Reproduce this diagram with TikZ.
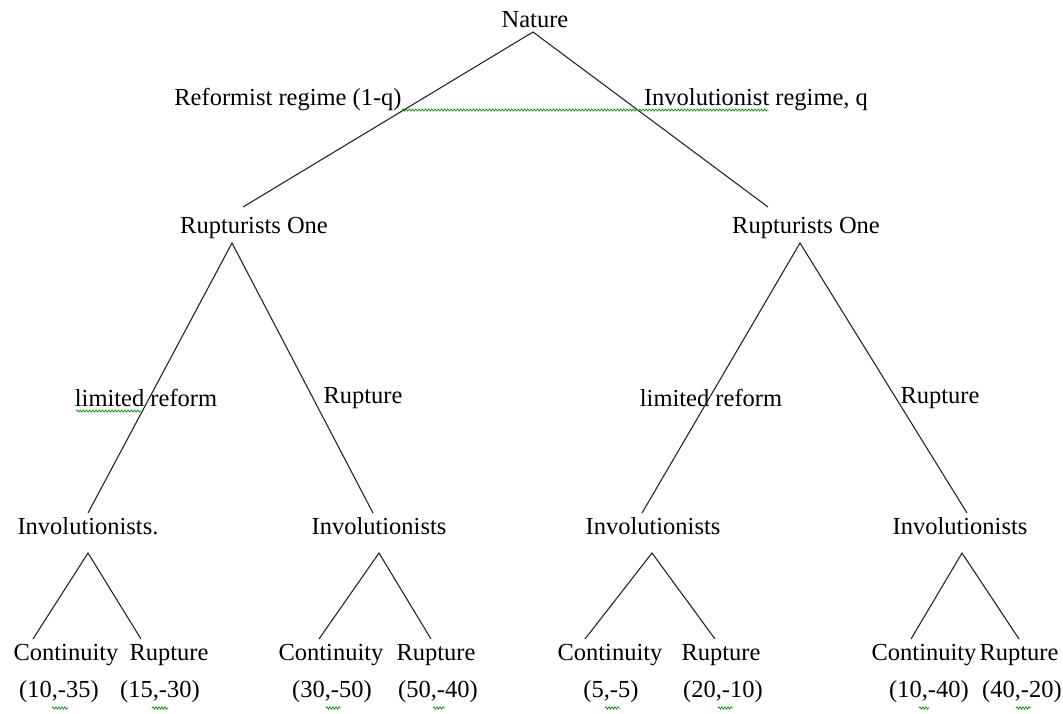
\documentclass[tikz,border=0pt]{standalone}
\usepackage{fontspec}
\setmainfont{Liberation Serif}
\usetikzlibrary{decorations.pathmorphing}
\begin{document}
\begin{tikzpicture}[x=1pt,y=-1pt,
  lbl/.style={inner sep=0pt,font=\fontsize{24.5}{28}\selectfont},
  branch/.style={draw=black!85,line width=1.1pt},
  squiggle/.style={draw=green!60!black,line width=0.7pt,
    decorate,decoration={snake,segment length=3.2pt,amplitude=1.1pt}}]
\useasboundingbox (0,0) rectangle (1063,713);

% players and moves
\node[lbl] (nat) at (535,20) {Nature};
\node[lbl] (reg1) at (288,100) {Reformist regime (1-q)};
\node[lbl] (reg2) at (756,100) {Involutionist regime, q};
\node[lbl] (rupL) at (254,228) {Rupturists One};
\node[lbl] (rupR) at (806,228) {Rupturists One};
\node[lbl] (limL) at (146,398) {limited reform};
\node[lbl] (rptL) at (363,398) {Rupture};
\node[lbl] (limR) at (711,398) {limited reform};
\node[lbl] (rptR) at (940,398) {Rupture};
\node[lbl] (inv1) at (88,526) {Involutionists.};
\node[lbl] (inv2) at (379,526) {Involutionists};
\node[lbl] (inv3) at (653,526) {Involutionists};
\node[lbl] (inv4) at (960,526) {Involutionists};

% terminal actions
\node[lbl] (c1) at (66,655) {Continuity};
\node[lbl] (r1) at (169,655) {Rupture};
\node[lbl] (c2) at (331,655) {Continuity};
\node[lbl] (r2) at (436,655) {Rupture};
\node[lbl] (c3) at (610,655) {Continuity};
\node[lbl] (r3) at (721,655) {Rupture};
\node[lbl] (c4) at (924,655) {Continuity};
\node[lbl] (r4) at (1019,655) {Rupture};

% payoffs
\node[lbl] (p1) at (59,692) {(10,-35)};
\node[lbl] (p2) at (160,692) {(15,-30)};
\node[lbl] (p3) at (332,692) {(30,-50)};
\node[lbl] (p4) at (438,692) {(50,-40)};
\node[lbl] (p5) at (611,692) {(5,-5)};
\node[lbl] (p6) at (723,692) {(20,-10)};
\node[lbl] (p7) at (929,692) {(10,-40)};
\node[lbl] (p8) at (1022,692) {(40,-20)};

% branch end points
\coordinate (a0) at (533,32);
\coordinate (a0l) at (243,207);
\coordinate (a0r) at (768,207);
\coordinate (aL) at (232,243);
\coordinate (aLl) at (88,513);
\coordinate (aLr) at (373,513);
\coordinate (aR) at (800,243);
\coordinate (aRl) at (642,513);
\coordinate (aRr) at (967,513);
\coordinate (b1) at (88,553);
\coordinate (b1l) at (33,639);
\coordinate (b1r) at (141,639);
\coordinate (b2) at (379,553);
\coordinate (b2l) at (319,639);
\coordinate (b2r) at (431,639);
\coordinate (b3) at (652,553);
\coordinate (b3l) at (585,639);
\coordinate (b3r) at (715,639);
\coordinate (b4) at (962,553);
\coordinate (b4l) at (911,639);
\coordinate (b4r) at (1019,639);

\draw[branch] (a0l) -- (a0) -- (a0r);
\draw[branch] (aLl) -- (aL) -- (aLr);
\draw[branch] (aRl) -- (aR) -- (aRr);
\draw[branch] (b1l) -- (b1) -- (b1r);
\draw[branch] (b2l) -- (b2) -- (b2r);
\draw[branch] (b3l) -- (b3) -- (b3r);
\draw[branch] (b4l) -- (b4) -- (b4r);

% spelling marks
\coordinate (s0a) at (402,110); \coordinate (s0b) at (768,110);
\coordinate (s1a) at (76,411);  \coordinate (s1b) at (141,411);
\draw[squiggle] (s0a) -- (s0b);
\draw[squiggle] (s1a) -- (s1b);
\foreach \xa/\xb in {52/68,152/168,326/341,433/445,605/620,718/733,919/929,1016/1031}
  \draw[squiggle,decoration={snake,segment length=3pt,amplitude=1.2pt}] (\xa,708) -- (\xb,708);
\end{tikzpicture}
\end{document}
